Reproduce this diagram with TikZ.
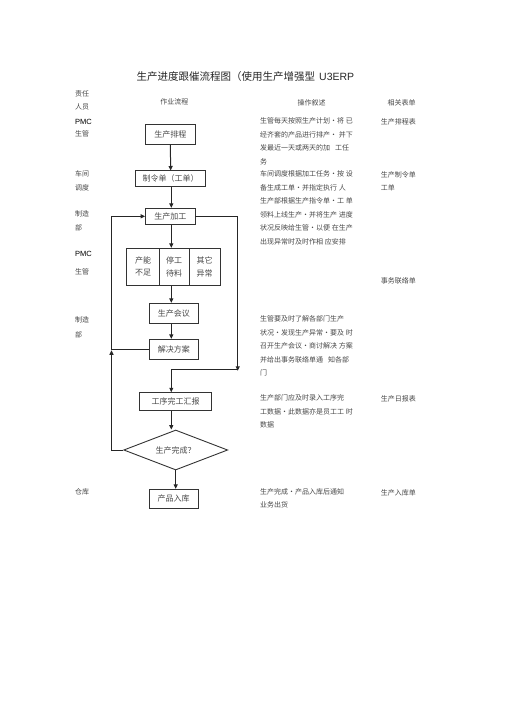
\documentclass[tikz,border=0pt]{standalone}
\usepackage{fontspec}
\setmainfont{Noto Sans CJK SC}
\newfontfamily\latinsans{Liberation Sans}
\usetikzlibrary{arrows.meta,shapes.geometric}
\begin{document}
\begin{tikzpicture}[x=1pt,y=-1pt,
  txt/.style={inner sep=0pt,text=black!72,font=\fontsize{7}{13.5}\selectfont},
  lab/.style={txt,anchor=west},
  para/.style={txt,anchor=north west,align=left},
  boxx/.style={draw=black!80,line width=0.9pt,inner sep=0pt,text=black!72,font=\fontsize{8}{9}\selectfont},
  conn/.style={draw=black!85,line width=1pt},
  arr/.style={conn,-{Triangle[length=4.5pt,width=4pt]}}]
\useasboundingbox (0,0) rectangle (505,714);
% title
\node[inner sep=0pt,anchor=west,text=black!85,font=\fontsize{10.5}{12}\selectfont] (title) at (136.5,77) {生产进度跟催流程图（使用生产增强型\hspace{4pt}{\latinsans U3ERP}};
% headers
\node[txt] (h0a) at (82,94.3) {责任};
\node[txt] (h0b) at (82,107.3) {人员};
\node[txt] (h1) at (174.3,102) {作业流程};
\node[txt] (h2) at (311.7,102.7) {操作叙述};
\node[txt] (h3) at (401.7,102.7) {相关表单};
% left labels
\node[lab,text=black,font=\latinsans\fontsize{7.5}{9}\selectfont] (l1) at (75,122) {PMC};
\node[lab] (l2) at (75,134) {生管};
\node[lab] (l3) at (75,174) {车间};
\node[lab] (l4) at (75,188) {调度};
\node[lab] (l5) at (75,214) {制造};
\node[lab] (l6) at (75,228) {部};
\node[lab,text=black,font=\latinsans\fontsize{7.5}{9}\selectfont] (l7) at (75,254.3) {PMC};
\node[lab] (l8) at (75,271.7) {生管};
\node[lab] (l9) at (75,320) {制造};
\node[lab] (l10) at (75,335) {部};
\node[lab] (l11) at (75,492.3) {仓库};
% descriptions
\node[para] (p1) at (260,117.8) {生管每天按照生产计划·将 已\\经齐套的产品进行排产· 并下\\发最近一天或两天的加\hspace{5pt}工任\\务};
\node[para] (p2) at (260,170.5) {车间调度根据加工任务·按 设\\备生成工单·并指定执行 人\\生产部根据生产指令单·工 单\\领料上线生产·并将生产 进度\\状况反映给生管·以便 在生产\\出现异常时及时作相 应安排};
\node[para] (p3) at (260,315.5) {生管要及时了解各部门生产\\状况·发现生产异常·要及 时\\召开生产会议·商讨解决 方案\\并给出事务联络单通\hspace{5pt}知各部\\门};
\node[para] (p4) at (260,394.5) {生产部门应及时录入工序完\\工数据·此数据亦是员工工 时\\数据};
\node[para] (p5) at (260,488.2) {生产完成·产品入库后通知\\业务出货};
% forms
\node[lab] (f1) at (380.7,122.3) {生产排程表};
\node[lab] (f2) at (380.7,175) {生产制令单};
\node[lab] (f3) at (380.7,188.3) {工单};
\node[lab] (f4) at (380.7,280.7) {事务联络单};
\node[lab] (f5) at (380.7,399) {生产日报表};
\node[lab] (f6) at (380.7,492.7) {生产入库单};
% flow boxes
\node[boxx,minimum width=49.3pt,minimum height=20pt] (b1) at (170.3,134.3) {生产排程};
\node[boxx,minimum width=70pt,minimum height=15.7pt] (b2) at (170.7,178.8) {制令单（工单）};
\node[boxx,minimum width=49.3pt,minimum height=16pt] (b3) at (170.3,216.3) {生产加工};
\node[boxx,minimum width=93.3pt,minimum height=36.7pt] (b4) at (173.3,266.7) {};
\node[txt,font=\fontsize{8}{12.5}\selectfont,align=center] (c1) at (143,266.7) {产能\\不足};
\node[txt,font=\fontsize{8}{12.5}\selectfont,align=center] (c2) at (174.2,266.7) {停工\\待料};
\node[txt,font=\fontsize{8}{12.5}\selectfont,align=center] (c3) at (204.7,266.7) {其它\\异常};
\draw[draw=black!80,line width=0.9pt] (159,248.3) -- (159,285) (189.3,248.3) -- (189.3,285);
\node[boxx,minimum width=49pt,minimum height=20pt] (b5) at (173.8,313.3) {生产会议};
\node[boxx,minimum width=49pt,minimum height=20pt] (b6) at (173.8,349.3) {解决方案};
\node[boxx,minimum width=72.4pt,minimum height=18pt] (b7) at (175.5,401.7) {工序完工汇报};
\node[boxx,diamond,aspect=2.6,minimum width=104pt,minimum height=40pt] (d) at (175.7,450) {生产完成？};
\node[boxx,minimum width=49.3pt,minimum height=19pt] (b8) at (173.7,498.8) {产品入库};
% connector helper points
\coordinate (cx) at (171.3,0);
\coordinate (lx) at (111.5,0);
\coordinate (rx) at (237.7,0);
\coordinate (dx) at (175.7,0);
\coordinate (jr) at (237.7,369.3);
% arrows
\draw[arr] (b1.south) -- (b2.north);
\draw[arr] (cx |- b2.south) -- (cx |- b3.north);
\draw[arr] (cx |- b3.south) -- (cx |- b4.north);
\draw[arr] (cx |- b4.south) -- (cx |- b5.north);
\draw[arr] (cx |- b5.south) -- (cx |- b6.north);
\draw[arr] (b6.west) -- (lx |- b6.west) -- (lx |- b3.west) -- (b3.west);
\draw[arr] (d.west) -- (lx |- d.west) -- ([yshift=-1pt]lx |- b6.west);
\draw[arr] (b3.east) -- (rx |- b3.east) -- ([yshift=-1.5pt]jr);
\draw[arr] (jr) -- (cx |- jr) -- (cx |- b7.north);
\draw[arr] (cx |- b7.south) -- (cx |- d.north);
\draw[arr] (dx |- d.south) -- (dx |- b8.north);
\end{tikzpicture}
\end{document}
